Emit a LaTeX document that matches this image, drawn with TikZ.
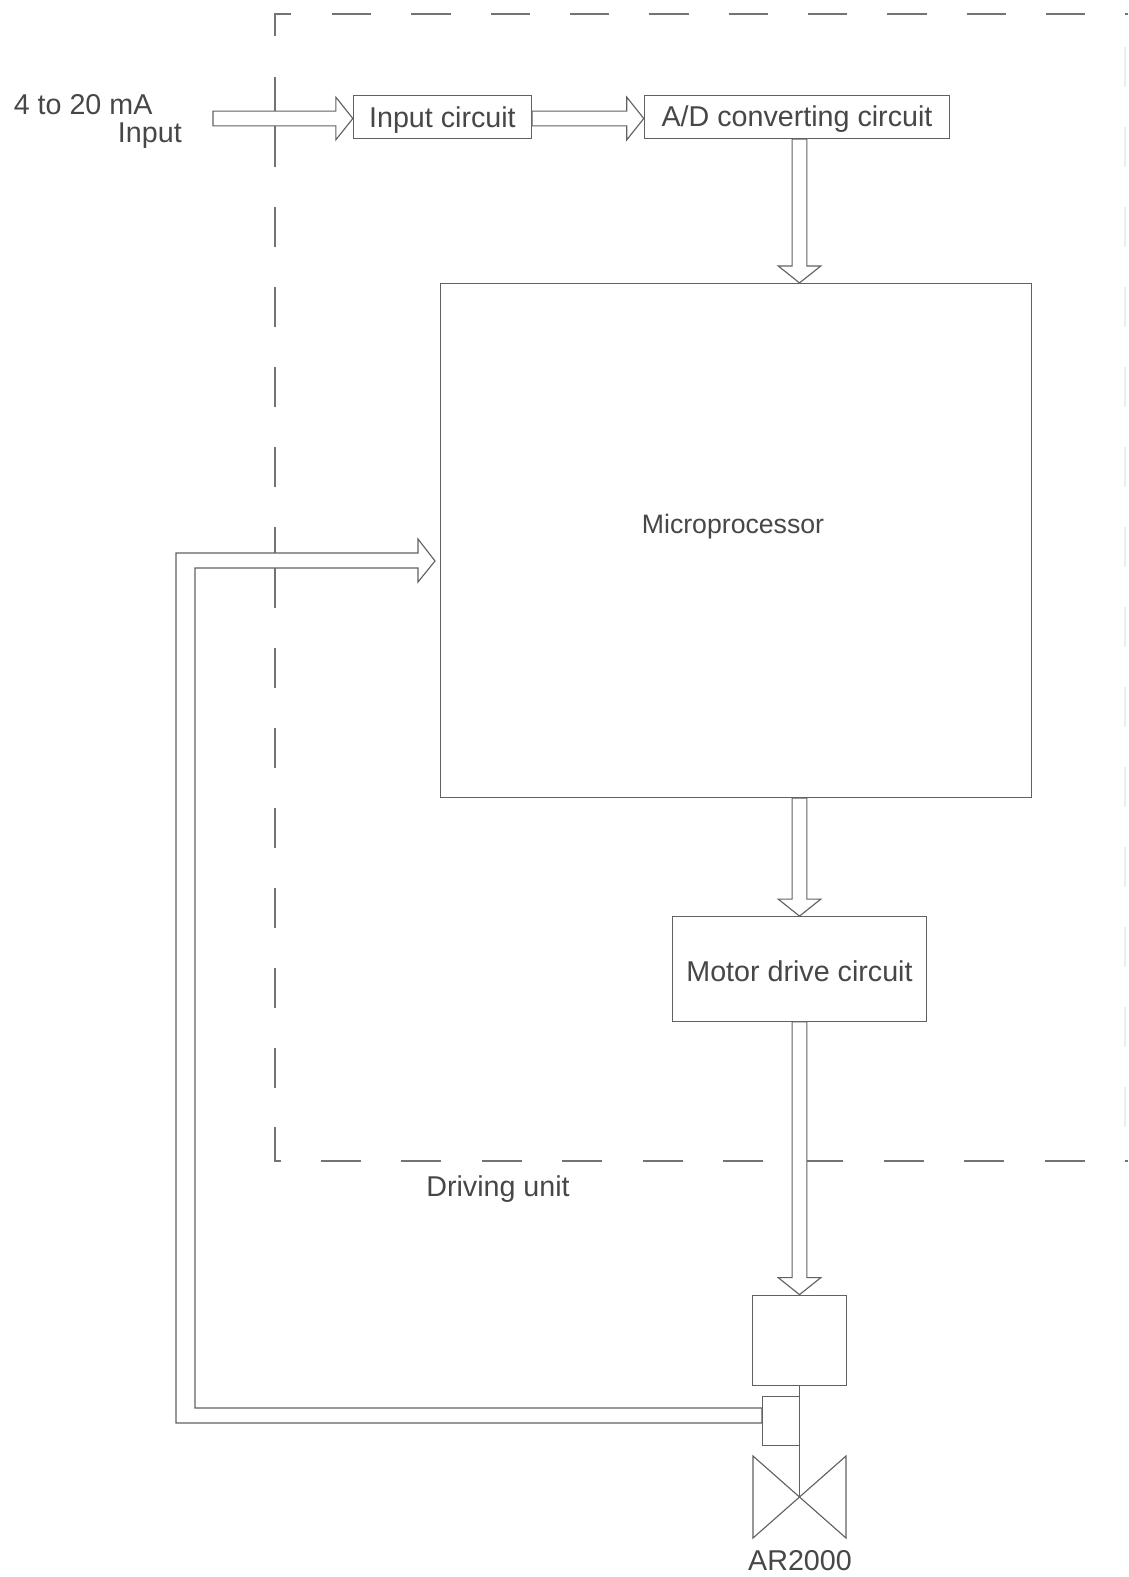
\documentclass[tikz,border=0pt]{standalone}
\usepackage{fontspec}
\setmainfont{Liberation Sans}
\usetikzlibrary{calc, positioning}

\begin{document}
\begin{tikzpicture}[
  x=0.75pt, y=-0.75pt,
  font=\fontsize{21.5}{26}\selectfont,
  wire/.style={draw=black!62, line width=0.85pt, line join=miter},
  fence/.style={draw=black!55, line width=0.85pt},
  circuit/.style={rectangle, wire, fill=white, inner sep=0pt, align=center, text=black!72},
  labeltext/.style={inner sep=0pt, align=center, text=black!72},
  blockarrow/.style={wire, fill=white, to path={
    let \p1=($(\tikztotarget)!12.75pt!(\tikztostart)$) in
    ($(\tikztostart)!5.5pt!90:(\tikztotarget)$) -- ($(\p1)!5.5pt!90:(\tikztotarget)$) --
    ($(\p1)!16pt!90:(\tikztotarget)$) -- (\tikztotarget) -- ($(\p1)!16pt!-90:(\tikztotarget)$) --
    ($(\p1)!5.5pt!-90:(\tikztotarget)$) -- ($(\tikztostart)!5.5pt!-90:(\tikztotarget)$) -- cycle}}
]

\useasboundingbox (0,0) rectangle (1128,1577);

\draw[fence] (275,36) -- (275,14) -- (291,14);
\draw[fence, dash pattern=on 29.5pt off 30pt] (332,14) -- (1128,14);
\draw[fence] (275,77) -- (275,167);
\draw[fence, dash pattern=on 30pt off 30pt] (275,207) -- (275,500);
\draw[fence] (275,527) -- (275,608);
\draw[fence, dash pattern=on 30pt off 30pt] (275,648) -- (275,1100);
\draw[fence] (275,1127) -- (275,1161) -- (281,1161);
\draw[fence, dash pattern=on 30pt off 30.3pt] (321,1161) -- (1128,1161);
\draw[fence, draw=black!7, dash pattern=on 30pt off 30pt] (1125,47) -- (1125,1127);

\node[circuit, minimum width=133.5pt, minimum height=32.25pt, text depth=0pt] (inputbox) at (442.4,117.2) {Input circuit};
\node[circuit, minimum width=229pt, minimum height=32.25pt, text depth=1.5pt] (adbox) at (797,117) {A/D converting circuit};
\node[circuit, minimum width=443pt, minimum height=385.5pt] (microbox) at (736,540.5) {};
\node[labeltext, font=\fontsize{20}{24}\selectfont] (microtext) at (733,527) {Microprocessor};
\node[circuit, minimum width=191pt, minimum height=78.5pt, text height=18.4pt] (motorbox) at (799.5,969) {Motor drive circuit};
\node[circuit, minimum width=70pt, minimum height=68pt] (actuator) at (799.5,1340.5) {};
\node[circuit, minimum width=27.75pt, minimum height=36.75pt] (sensor) at (780.9,1420.9) {};

\coordinate (inputtail) at (213,118.5);
\coordinate (microin) at (motorbox.north |- microbox.north);
\coordinate (microout) at (motorbox.north |- microbox.south);
\coordinate (adout) at (adbox.south -| microin);
\coordinate (valvemid) at (actuator.south |- 0,1497);
\coordinate (feedout) at (sensor.west |- 0,1415.5);
\coordinate (feedin) at (435,561);
\coordinate (adin) at (adbox.west |- inputtail);
\coordinate (inputin) at (inputbox.west |- inputtail);
\coordinate (inputout) at (inputbox.east |- inputtail);

\draw[blockarrow] (inputtail) to (inputin);
\draw[blockarrow] (inputout) to (adin);
\draw[blockarrow] (adout) to (microin);
\draw[blockarrow] (microout) to (motorbox.north);
\draw[blockarrow] (motorbox.south) to (actuator.north);

\draw[wire, fill=white] (feedout) ++(0,7.5) -| (176,553) -- (418,553) -- (418,539) -- (feedin) -- (418,582) -- (418,568) -- (195,568) |- (762,1408) -- cycle;

\draw[wire] (actuator.south) -- (valvemid);
\draw[wire] (753,1456) -- (846,1538) -- (846,1456) -- (753,1538) -- cycle;

\node[labeltext, anchor=west] (currenttext) at (13.5,104.5) {4 to 20 mA};
\node[labeltext, anchor=east] (inputtext) at (182,136) {Input};
\node[labeltext] (drivingtext) at (498,1189) {Driving unit};
\node[labeltext] (valvetext) at (800,1561) {AR2000};

\end{tikzpicture}
\end{document}
